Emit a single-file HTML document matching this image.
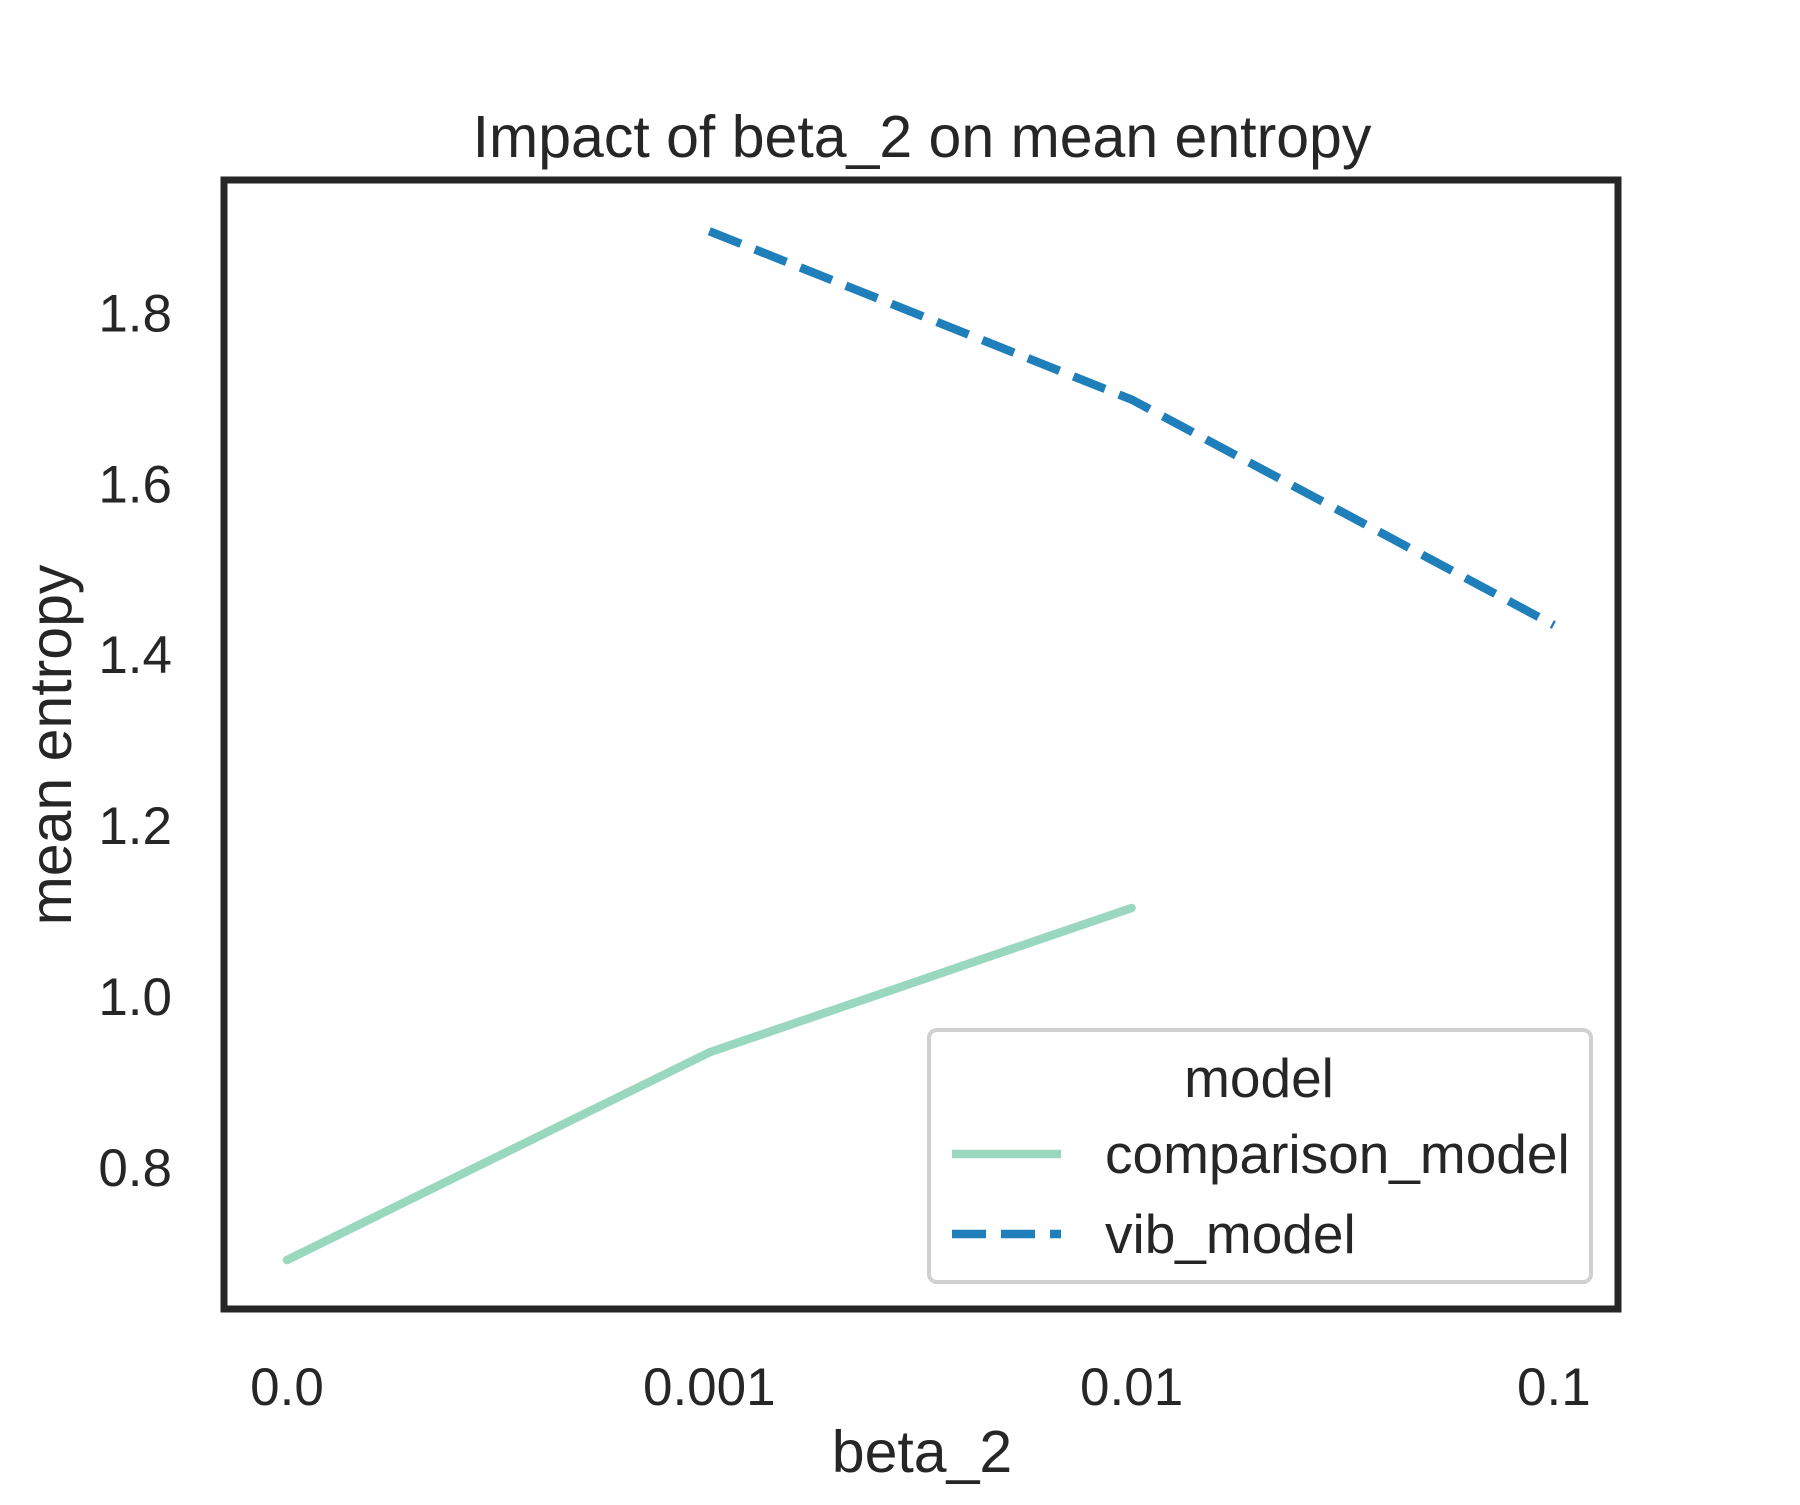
<!DOCTYPE html>
<html><head><meta charset="utf-8"><style>
html,body{margin:0;padding:0;background:#fff;}
svg text{font-family:"Liberation Sans",Arial,sans-serif;fill:#262626;}
</style></head><body>
<svg width="1800" height="1500" viewBox="0 0 1800 1500">
<text x="922" y="157" font-size="59" text-anchor="middle">Impact of beta_2 on mean entropy</text>
<g id="yticks"></g>
<g id="xticks"></g>
<g id="series"></g>
<rect x="224" y="180" width="1394" height="1129" fill="none" stroke="#262626" stroke-width="7"/>
<text x="922" y="1472" font-size="59" text-anchor="middle">beta_2</text>
<text transform="translate(71,745) rotate(-90)" font-size="59" text-anchor="middle">mean entropy</text>
<g>
<rect x="929" y="1030" width="662" height="252" rx="8" fill="#fff" stroke="#d0d0d0" stroke-width="4"/>
<text x="1259" y="1097" font-size="55" text-anchor="middle">model</text>
<line x1="952" y1="1154" x2="1061" y2="1154" stroke="#99d8be" stroke-width="8.5"/>
<text x="1105" y="1173" font-size="55">comparison_model</text>
<line x1="952" y1="1234" x2="1061" y2="1234" stroke="#1f7fbb" stroke-width="8.5" stroke-dasharray="34,15"/>
<text x="1105" y="1253" font-size="55">vib_model</text>
</g>
</svg>
<script>
const categories=["0.0","0.001","0.01","0.1"];
const comparisonValues=[0.691,0.934,1.103,null];
const vibValues=[null,1.895,1.698,1.434];
const yTicks=[0.8,1.0,1.2,1.4,1.6,1.8];
const NS="http://www.w3.org/2000/svg";
function xPos(i){return 287+i*422.3;}
function yPos(v){return 996-(v-1.0)*854.5;}
const yt=document.getElementById('yticks');
yTicks.forEach(v=>{const t=document.createElementNS(NS,'text');
t.setAttribute('x',172);t.setAttribute('y',yPos(v)+19);t.setAttribute('font-size','53');t.setAttribute('text-anchor','end');
t.textContent=v.toFixed(1);


yt.appendChild(t);});
const xt=document.getElementById('xticks');
categories.forEach((c,i)=>{const t=document.createElementNS(NS,'text');
t.setAttribute('x',xPos(i));t.setAttribute('y',1405);t.setAttribute('font-size','53');t.setAttribute('text-anchor','middle');
t.textContent=c;


xt.appendChild(t);});
function pathFor(vals){return vals.map((v,i)=>v==null?null:[xPos(i),yPos(v)]).filter(p=>p).map((p,k)=>(k?'L':'M')+p[0]+','+p[1]).join(' ');}
const sg=document.getElementById('series');
const p1=document.createElementNS(NS,'path');
p1.setAttribute('d',pathFor(comparisonValues));p1.setAttribute('fill','none');p1.setAttribute('stroke','#99d8be');p1.setAttribute('stroke-width','8.5');p1.setAttribute('stroke-linecap','round');


sg.appendChild(p1);
const p2=document.createElementNS(NS,'path');
p2.setAttribute('d',pathFor(vibValues));p2.setAttribute('fill','none');p2.setAttribute('stroke','#1f7fbb');p2.setAttribute('stroke-width','8.5');p2.setAttribute('stroke-dasharray','34,15');


sg.appendChild(p2);
</script>
</body></html>
